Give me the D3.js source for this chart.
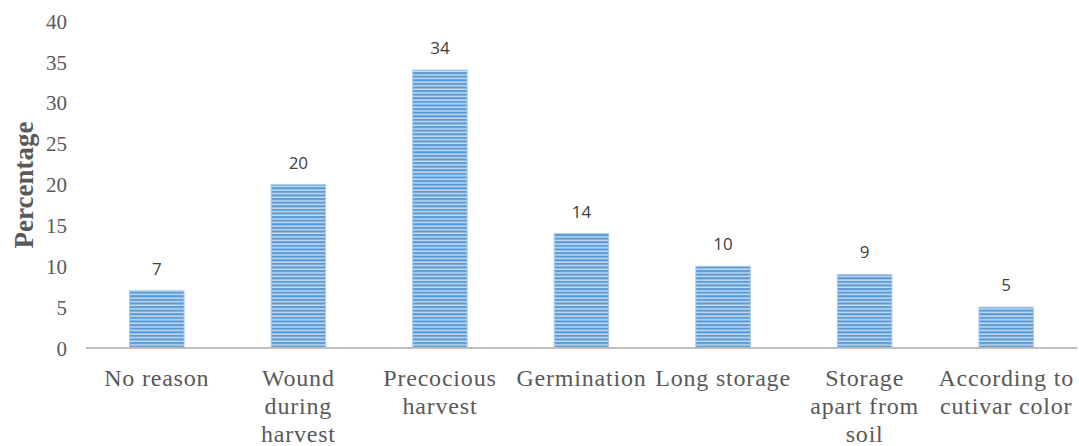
<!DOCTYPE html>
<html>
<head>
<meta charset="utf-8">
<script src="https://cdn.jsdelivr.net/npm/d3@7"></script>
<style>
  html, body { margin: 0; padding: 0; background: #fff; }
  svg { display: block; }
</style>
</head>
<body>
<svg id="chart" width="1079" height="446"></svg>
<script>
const categories = [
  ["No reason"],
  ["Wound", "during", "harvest"],
  ["Precocious", "harvest"],
  ["Germination"],
  ["Long storage"],
  ["Storage", "apart from", "soil"],
  ["According to", "cutivar color"]
];
const values = [7, 20, 34, 14, 10, 9, 5];
const yTicks = [0, 5, 10, 15, 20, 25, 30, 35, 40];
const yTitle = "Percentage";

const svg = d3.select("#chart");
const keys = categories.map((c, i) => i);

const x = d3.scaleBand().domain(keys).range([86, 1077]).paddingInner(0.615).paddingOuter(0.3075);
const y = d3.scaleLinear().domain([0, 40]).range([348, 21]);

// stripe pattern
const defs = svg.append("defs");
const pat = defs.append("pattern")
  .attr("id", "stripes").attr("patternUnits", "userSpaceOnUse")
  .attr("width", 8).attr("height", 3.6);
pat.append("rect").attr("width", 8).attr("height", 3.6).attr("fill", "#5b9bd5");
pat.append("rect").attr("y", 2.2).attr("width", 8).attr("height", 1.4).attr("fill", "#c9def3");

// y tick labels
const yAxis = d3.axisLeft(y).tickValues(yTicks).tickSize(0).tickPadding(0);
const gy = svg.append("g").attr("transform", "translate(67,0)").call(yAxis);
gy.select(".domain").remove();
gy.selectAll("text")
  .attr("font-family", "'Liberation Serif', 'Times New Roman', serif")
  .attr("font-size", 21).attr("fill", "#595959").attr("dy", "0.34em");

// y title
svg.append("text")
  .attr("transform", "translate(33,185) rotate(-90)")
  .attr("text-anchor", "middle")
  .attr("font-family", "'Liberation Serif', 'Times New Roman', serif")
  .attr("font-weight", "bold").attr("font-size", 27).attr("fill", "#595959")
  .text(yTitle);

// bars
svg.append("g").selectAll("rect").data(values).join("rect")
  .attr("x", (d, i) => x(i))
  .attr("y", d => y(d))
  .attr("width", x.bandwidth())
  .attr("height", d => y(0) - y(d))
  .attr("fill", "url(#stripes)")
  .attr("stroke", "#a9cbea").attr("stroke-width", 1);

// value labels
svg.append("g").selectAll("text").data(values).join("text")
  .attr("x", (d, i) => x(i) + x.bandwidth() / 2)
  .attr("y", d => y(d) - 16)
  .attr("text-anchor", "middle")
  .attr("font-family", "'Open Sans', 'Liberation Sans', sans-serif")
  .attr("font-size", 17).attr("fill", "#404040")
  .text(d => d);

// x axis line
const xAxis = d3.axisBottom(x).tickSize(0).tickFormat("");
const gx = svg.append("g").attr("transform", "translate(0,348)").call(xAxis);
gx.select(".domain").attr("stroke", "#bfbfbf").attr("stroke-width", 2).attr("d", "M86,0H1077");

// category labels
const cl = svg.append("g").selectAll("text").data(categories).join("text")
  .attr("text-anchor", "middle")
  .attr("font-family", "'Liberation Serif', 'Times New Roman', serif")
  .attr("font-size", 24).attr("letter-spacing", 0.8).attr("fill", "#595959");
cl.each(function(lines, i) {
  const t = d3.select(this);
  lines.forEach((ln, j) => {
    t.append("tspan")
      .attr("x", x(i) + x.bandwidth() / 2)
      .attr("y", 386 + j * 28)
      .text(ln);
  });
});
</script>
</body>
</html>
